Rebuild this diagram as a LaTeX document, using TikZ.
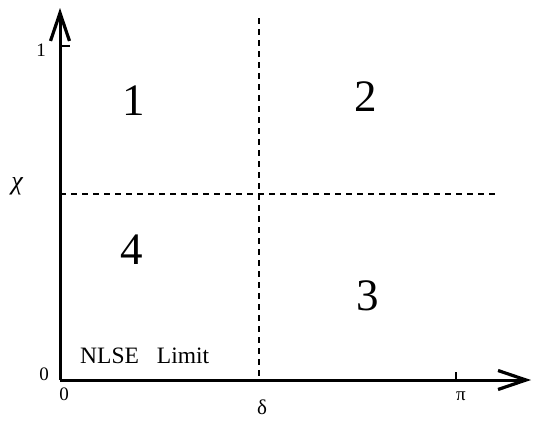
\documentclass[tikz,border=0pt]{standalone}
\usepackage{fontspec}
\setmainfont{Liberation Serif}
\usetikzlibrary{arrows.meta}
\tikzset{
  axis/.style={line width=3pt, -{Straight Barb[length=28pt,width=19pt,line width=3.2pt]}},
  divider/.style={line width=1.3pt, dash pattern=on 6pt off 5pt},
  ticklab/.style={inner sep=0pt, font=\fontsize{19}{19}\selectfont},
  region/.style={inner sep=0pt, font=\fontsize{45}{45}\selectfont},
  tickmark/.style={line width=1.6pt}
}
\begin{document}
\begin{tikzpicture}[x=1pt,y=-1pt]
\useasboundingbox (0,0) rectangle (533,423);
\coordinate (O) at (60,380);
\coordinate (ytop) at (60,8);
\coordinate (xend) at (531,380);
\coordinate (vtop) at (259,18);
\coordinate (vbot) at (259,380);
\coordinate (hleft) at (60,194);
\coordinate (hright) at (496,194);
\coordinate (yt1) at (60,46);
\coordinate (yt1e) at (70,46);
\coordinate (xtp) at (456,380);
\coordinate (xtpe) at (456,372);
\draw[divider] (vtop) -- (vbot);
\draw[divider] (hleft) -- (hright);
\draw[tickmark] (yt1) -- (yt1e);
\draw[tickmark] (xtp) -- (xtpe);
\draw[axis] (O) -- (ytop);
\draw[axis] (O) -- (xend);
\node[ticklab] (one) at (41,50) {1};
\node[ticklab] (zy) at (44,374) {0};
\node[ticklab] (zx) at (64,394) {0};
\node[ticklab] (pi) at (461,396) {π};
\node[inner sep=0pt, font=\fontsize{26}{26}\selectfont\itshape] (chi) at (17,186) {χ};
\node[inner sep=0pt, font=\fontsize{21}{21}\selectfont] (delta) at (262,407) {δ};
\node[region] (r1) at (134,101) {1};
\node[region] (r2) at (366,97) {2};
\node[region] (r3) at (368,296) {3};
\node[region] (r4) at (132,250) {4};
\node[inner sep=0pt, anchor=base west, font=\fontsize{23.5}{23.5}\selectfont] (nlse) at (80,363) {NLSE\hspace{18pt}Limit};
\end{tikzpicture}
\end{document}
